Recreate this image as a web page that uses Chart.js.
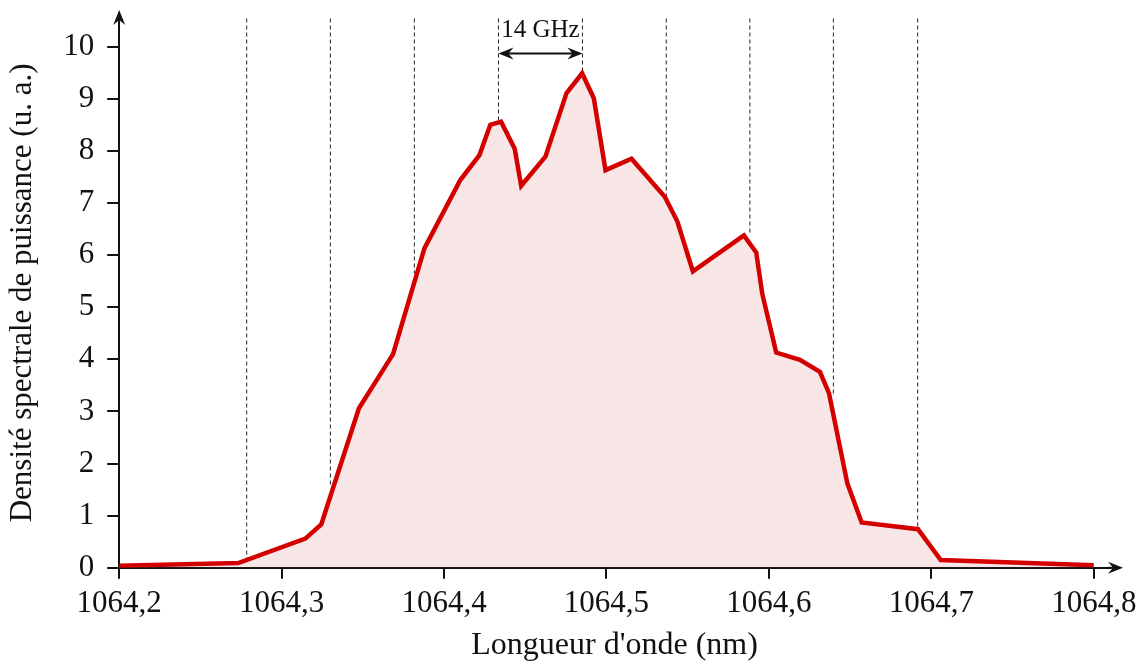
<!DOCTYPE html>
<html lang="fr">
<head>
    <meta charset="UTF-8">
    <title>Densité spectrale</title>
    <script src="https://cdn.jsdelivr.net/npm/chart.js"></script>
    <style>
        body, html {
            margin: 0;
            padding: 0;
            background: #fff;
            overflow: hidden;
        }
        #wrap {
            width: 1145px;
            height: 662px;
        }
    </style>
</head>
<body>
<div id="wrap"><canvas id="spectre"></canvas></div>
<script>
    // spectrum (nm, arbitrary units)
    const waveLength = [
        1064.2, 1064.2733, 1064.3146, 1064.3244, 1064.3476, 1064.3686, 1064.3879,
        1064.4100, 1064.4218, 1064.4285, 1064.4351, 1064.4435, 1064.4475, 1064.4624,
        1064.4754, 1064.4850, 1064.4922, 1064.4994, 1064.5154, 1064.5359, 1064.5436,
        1064.5532, 1064.5846, 1064.5922, 1064.5959, 1064.6045, 1064.6191, 1064.6314,
        1064.6370, 1064.6483, 1064.6571, 1064.6918, 1064.7058, 1064.8
    ];
    const power = [
        0.04, 0.09, 0.56, 0.83, 3.06, 4.10, 6.13,
        7.44, 7.92, 8.50, 8.56, 8.04, 7.33, 7.89,
        9.11, 9.49, 9.01, 7.63, 7.85, 7.12, 6.65,
        5.69, 6.38, 6.05, 5.26, 4.13, 3.99, 3.76,
        3.35, 1.62, 0.87, 0.74, 0.15, 0.05
    ];

    // dotted comb lines, 14 GHz apart
    const combX = [1064.2785, 1064.3300, 1064.3817, 1064.4335, 1064.4852, 1064.5368, 1064.5883, 1064.6397, 1064.6916];
    const combY = [0.17, 1.54, 5.65, 8.56, 9.50, 7.12, 6.38, 3.31, 0.75];
    const combTop = 10.54;

    const xTicks = [1064.2, 1064.3, 1064.4, 1064.5, 1064.6, 1064.7, 1064.8];
    const yTicks = [0, 1, 2, 3, 4, 5, 6, 7, 8, 9, 10];

    const serif = '"Liberation Serif", "Times New Roman", serif';
    const ink = '#111';

    function arrowHead(ctx, x, y, angle) {
        ctx.save();
        ctx.translate(x, y);
        ctx.rotate(angle);
        ctx.beginPath();
        ctx.moveTo(0, 0);
        ctx.lineTo(-15, -6);
        ctx.lineTo(-10, 0);
        ctx.lineTo(-15, 6);
        ctx.closePath();
        ctx.fill();
        ctx.restore();
    }

    const extras = {
        id: 'extras',
        afterDraw(chart) {
            const ctx = chart.ctx;
            const a = chart.chartArea;
            const xs = chart.scales.x;
            const ys = chart.scales.y;
            ctx.save();
            ctx.fillStyle = ink;
            ctx.strokeStyle = ink;

            // axis arrows
            ctx.lineWidth = 2;
            ctx.beginPath();
            ctx.moveTo(a.right - 2, a.bottom);
            ctx.lineTo(a.right + 6, a.bottom);
            ctx.stroke();
            arrowHead(ctx, a.right + 13, a.bottom, 0);
            arrowHead(ctx, a.left, a.top - 8, -Math.PI / 2);

            // 14 GHz spacing
            const x1 = xs.getPixelForValue(combX[3]);
            const x2 = xs.getPixelForValue(combX[4]);
            const yA = ys.getPixelForValue(9.87);
            ctx.lineWidth = 2;
            ctx.beginPath();
            ctx.moveTo(x1 + 8, yA);
            ctx.lineTo(x2 - 8, yA);
            ctx.stroke();
            arrowHead(ctx, x2, yA, 0);
            arrowHead(ctx, x1, yA, Math.PI);

            ctx.font = '25px ' + serif;
            ctx.textAlign = 'center';
            ctx.textBaseline = 'alphabetic';
            ctx.fillText('14 GHz', (x1 + x2) / 2, ys.getPixelForValue(10.19));
            ctx.restore();
        }
    };

    const combSets = combX.map((x, i) => ({
        data: [{ x: x, y: combTop }, { x: x, y: combY[i] }],
        borderColor: '#222',
        borderWidth: 1,
        borderDash: [4, 3],
        pointRadius: 0,
        fill: false,
        clip: false,
        order: 2
    }));

    const ctx = document.getElementById('spectre').getContext('2d');
    new Chart(ctx, {
        type: 'line',
        data: {
            datasets: [{
                data: waveLength.map((x, i) => ({ x: x, y: power[i] })),
                borderColor: '#d40000',
                backgroundColor: 'rgba(220, 130, 130, 0.2)',
                borderWidth: 4.5,
                borderJoinStyle: 'miter',
                pointRadius: 0,
                fill: 'origin',
                tension: 0,
                order: 1
            }, ...combSets]
        },
        plugins: [extras],
        options: {
            responsive: true,
            maintainAspectRatio: false,
            animation: false,
            layout: { padding: { top: 18, right: 35, left: 4, bottom: 0 } },
            plugins: {
                legend: { display: false },
                tooltip: { enabled: false }
            },
            scales: {
                x: {
                    type: 'linear',
                    min: 1064.2,
                    max: 1064.81,
                    afterBuildTicks: s => { s.ticks = xTicks.map(v => ({ value: v })); },
                    border: { display: true, color: ink, width: 2 },
                    grid: { drawOnChartArea: false, drawTicks: true, tickLength: 11, color: ink, lineWidth: 2 },
                    ticks: {
                        color: ink,
                        font: { family: serif, size: 31 },
                        padding: 6,
                        maxRotation: 0,
                        autoSkip: false,
                        callback: v => v.toFixed(1).replace('.', ',')
                    },
                    title: {
                        display: true,
                        text: "Longueur d'onde (nm)",
                        color: ink,
                        font: { family: serif, size: 32, lineHeight: 1 },
                        padding: { top: 2, bottom: 0 }
                    }
                },
                y: {
                    min: 0,
                    max: 10.55,
                    afterBuildTicks: s => { s.ticks = yTicks.map(v => ({ value: v })); },
                    afterFit: s => { s.paddingTop = 0; },
                    border: { display: true, color: ink, width: 2 },
                    grid: { drawOnChartArea: false, drawTicks: true, tickLength: 12, color: ink, lineWidth: 2 },
                    ticks: {
                        color: ink,
                        font: { family: serif, size: 31 },
                        padding: 13,
                        autoSkip: false,
                        callback: v => String(v)
                    },
                    title: {
                        display: true,
                        text: 'Densité spectrale de puissance (u. a.)',
                        color: ink,
                        font: { family: serif, size: 31 },
                        padding: { top: 0, bottom: 9 }
                    }
                }
            }
        }
    });
</script>
</body>
</html>
